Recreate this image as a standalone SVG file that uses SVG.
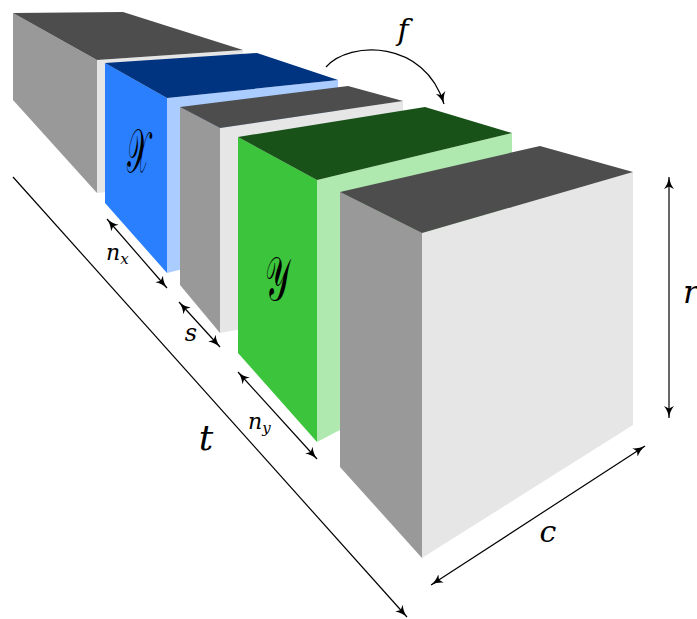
<svg xmlns="http://www.w3.org/2000/svg" width="697" height="619" viewBox="0 0 697 619">
<style>
.side{fill:#999999}.top{fill:#4d4d4d}.front{fill:#e6e6e6}
.bside{fill:#2a7fff}.btop{fill:#003380}.bfront{fill:#aaccff}
.gside{fill:#3cc43c}.gtop{fill:#195219}.gfront{fill:#afe9b0}
.dim{stroke:#000;stroke-width:1.2;fill:none}
</style>
<defs>
<marker id="ah" markerUnits="userSpaceOnUse" markerWidth="14" markerHeight="12" refX="12" refY="6" orient="auto-start-reverse">
<path d="M0,1 Q5,5 12,6 Q5,7 0,11 L2.5,6 Z" fill="#000"/>
</marker>
</defs>
<rect width="697" height="619" fill="#fff"/>
<g id="box1">
<polygon class="front" points="97,60 243,50 243,180 97,193"/>
<polygon class="side" points="13,13 97,60 97,193 13,100"/>
<polygon class="top" points="13,13 123,12 243,50 97,60"/>
</g>
<g id="box2">
<polygon class="bfront" points="167,98 338,80 338,230 167,273"/>
<polygon class="bside" points="105,63 167,98 167,273 105,203"/>
<polygon class="btop" points="105,63 257,53 338,80 167,98"/>
<text font-family="'DejaVu Serif','DejaVu Sans','Noto Sans',serif" font-size="42" text-anchor="middle" transform="translate(138,172) scale(0.62,1.45)" fill="#000">𝒳</text>
</g>
<g id="box3">
<polygon class="front" points="220,128 403,101 403,300 220,333"/>
<polygon class="side" points="180,107 220,128 220,333 180,285"/>
<polygon class="top" points="180,107 348,86 403,101 220,128"/>
</g>
<g id="box4">
<polygon class="gfront" points="317,180 512,133 512,340 317,442"/>
<polygon class="gside" points="238,137 317,180 317,442 238,353"/>
<polygon class="gtop" points="238,137 425,107 512,133 317,180"/>
<text font-family="'DejaVu Serif','DejaVu Sans','Noto Sans',serif" font-size="44" text-anchor="middle" transform="translate(277,300) scale(0.7,1.4)" fill="#000">𝒴</text>
</g>
<g id="box5">
<polygon class="front" points="422,233 633,172 633,425 422,558"/>
<polygon class="side" points="340,192 422,233 422,558 340,467"/>
<polygon class="top" points="340,192 540,146 633,172 422,233"/>
</g>
<g id="connectors">
<path class="dim" d="M326,67 C350,40 425,40 444,104" marker-end="url(#ah)"/>
<line class="dim" x1="669" y1="177" x2="669" y2="418" marker-start="url(#ah)" marker-end="url(#ah)"/>
<line class="dim" x1="431" y1="585" x2="645" y2="446" marker-start="url(#ah)" marker-end="url(#ah)"/>
<line class="dim" x1="13" y1="177" x2="407" y2="617" marker-end="url(#ah)"/>
<line class="dim" x1="107" y1="219" x2="167" y2="288" marker-start="url(#ah)" marker-end="url(#ah)"/>
<line class="dim" x1="179" y1="302" x2="220" y2="347" marker-start="url(#ah)" marker-end="url(#ah)"/>
<line class="dim" x1="238" y1="372" x2="317" y2="459" marker-start="url(#ah)" marker-end="url(#ah)"/>
</g>
<g id="labels" font-family="DejaVu Serif" font-style="italic" fill="#000">
<text x="403" y="40" font-size="30" text-anchor="middle">f</text>
<text x="683" y="303" font-size="32">r</text>
<text x="548" y="542" font-size="30" text-anchor="middle">c</text>
<text x="206" y="450" font-size="36" text-anchor="middle">t</text>
<text x="106" y="260" font-size="22">n<tspan font-size="15" dy="4">x</tspan></text>
<text x="191" y="341" font-size="24" text-anchor="middle">s</text>
<text x="248" y="429" font-size="22">n<tspan font-size="15" dy="4">y</tspan></text>
</g>
</svg>
